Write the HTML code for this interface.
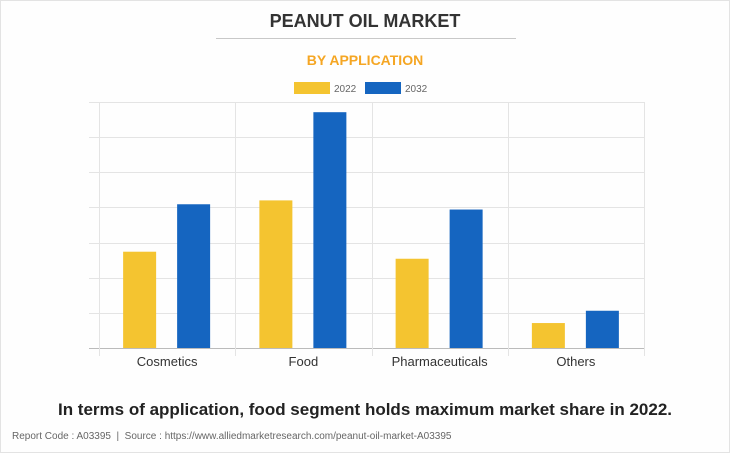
<!DOCTYPE html>
<html><head><meta charset="utf-8">
<style>
body{margin:0;background:#fff;}
#wrap{position:relative;width:728px;height:451px;border:1px solid #e3e3e3;background:#fefefe;font-family:"Liberation Sans",Arial,sans-serif;overflow:hidden;}
.t{position:absolute;left:0;width:728px;text-align:center;}
</style></head>
<body>
<div id="wrap">
<div class="t" style="top:10px;font-size:18px;font-weight:bold;color:#333;">PEANUT OIL MARKET</div>
<div style="position:absolute;left:215px;top:37px;width:300px;height:1px;background:#c8c8c8;"></div>
<div class="t" style="top:51px;font-size:14px;font-weight:bold;color:#f5a623;">BY APPLICATION</div>
<svg id="chart" width="730" height="453" style="position:absolute;left:0;top:0;"></svg>
<div class="t" style="top:399px;font-size:17px;font-weight:bold;color:#222;">In terms of application, food segment holds maximum market share in 2022.</div>
<div style="position:absolute;left:11px;top:430px;font-size:10px;color:#666;">Report Code : A03395 &nbsp;|&nbsp; Source : https://www.alliedmarketresearch.com/peanut-oil-market-A03395</div>
</div>
<script>
const categories=["Cosmetics","Food","Pharmaceuticals","Others"];
const series2022=[2.74,4.2,2.54,0.71];
const series2032=[4.09,6.71,3.94,1.06];
const seriesNames=["2022","2032"];
const colors=["#f4c430","#1565c0"];
const NS="http://www.w3.org/2000/svg";
const svg=document.getElementById("chart");
const L=98,R=643,T=101,B=347,maxV=7,nGrid=7;
const y=v=>B-(v/maxV)*(B-T);
const bandW=(R-L)/categories.length;
const x=i=>L+i*bandW;
function mk(tag,attrs){const e=document.createElementNS(NS,tag);for(const k in attrs)e.setAttribute(k,attrs[k]);svg.appendChild(e);return e;}
for(let g=0;g<=nGrid;g++){
 const yy=Math.round(y(g*maxV/nGrid))+0.5;
 const ln=mk("line",{x1:88,x2:R,y1:yy,y2:yy,stroke:g==0?"#bbb":"#e4e4e4","stroke-width":1});
 
 
}
for(let i=0;i<=categories.length;i++){
 const xx=Math.round(x(i))+0.5;
 const ln=mk("line",{x1:xx,x2:xx,y1:T,y2:B+8,stroke:"#e4e4e4","stroke-width":1});
 
 
}
const data=[series2022,series2032];
const bw=33;
categories.forEach((c,i)=>{
 const cx=x(i)+bandW/2;
 data.forEach((s,j)=>{
  const bx=j==0?cx-44:cx+10;
  const r=mk("rect",{x:bx,y:y(s[i]),width:bw,height:B-y(s[i]),fill:colors[j]});
  
  
 });
 const t=mk("text",{x:cx,y:365,"text-anchor":"middle","font-size":13,fill:"#333","font-family":"Liberation Sans, sans-serif"});
 t.textContent=c;
 
 
});
const lx=[293,364];
seriesNames.forEach((n,j)=>{
 const r=mk("rect",{x:lx[j],y:81,width:36,height:12,fill:colors[j]});
 
 
 const t=mk("text",{x:lx[j]+40,y:91,"font-size":10,fill:"#666","font-family":"Liberation Sans, sans-serif"});
 t.textContent=n;
 
 
});
</script>
</body></html>
